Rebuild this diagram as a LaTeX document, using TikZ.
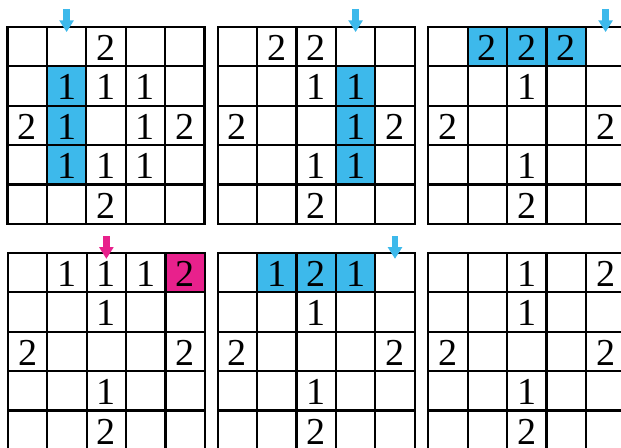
\documentclass[tikz,border=0pt]{standalone}
\usepackage{fontspec}
\setmainfont{Liberation Serif}
\usetikzlibrary{arrows.meta}
\definecolor{hintblue}{RGB}{61,185,235}
\definecolor{hintpink}{RGB}{232,33,140}

\begin{document}
\begin{tikzpicture}[
  x=1cm, y=-1cm,
  board/.style={line width=1.6pt},
  num/.style={font=\fontsize{27.5}{27.5}\selectfont, inner sep=0pt},
  hl/.style={fill=hintblue},
  hint/.style={line width=5pt, hintblue, -{Triangle[width=10pt,length=8.5pt]}},
]
\useasboundingbox (0,0) rectangle (15.761,11.345);
\clip (0,0) rectangle (15.761,11.345);

% top left
\begin{scope}[shift={(0.19,0.685)}]
  \fill[hl] (1,1) rectangle (2,4);
  \draw[board] (0,0) rectangle (5,5);
  \foreach \i in {1,...,4} {
    \draw[board] (\i,0) -- (\i,5);
    \draw[board] (0,\i) -- (5,\i);
  }
  \foreach \c/\r/\v in {3/1/2, 2/2/1, 3/2/1, 4/2/1, 1/3/2, 2/3/1, 4/3/1, 5/3/2,
                        2/4/1, 3/4/1, 4/4/1, 3/5/2}
    \node[num] (p1-\c-\r) at (\c-0.5,\r-0.47) {\v};
  \coordinate (p1-from) at (1.5,-0.46);
  \coordinate (p1-to) at (1.5,0.13);
  \draw[hint] (p1-from) -- (p1-to);
\end{scope}

% top middle
\begin{scope}[shift={(5.525,0.685)}]
  \fill[hl] (3,1) rectangle (4,4);
  \draw[board] (0,0) rectangle (5,5);
  \foreach \i in {1,...,4} {
    \draw[board] (\i,0) -- (\i,5);
    \draw[board] (0,\i) -- (5,\i);
  }
  \foreach \c/\r/\v in {2/1/2, 3/1/2, 3/2/1, 4/2/1, 1/3/2, 4/3/1, 5/3/2,
                        3/4/1, 4/4/1, 3/5/2}
    \node[num] (p2-\c-\r) at (\c-0.5,\r-0.47) {\v};
  \coordinate (p2-from) at (3.5,-0.46);
  \coordinate (p2-to) at (3.5,0.13);
  \draw[hint] (p2-from) -- (p2-to);
\end{scope}

% top right
\begin{scope}[shift={(10.87,0.685)}]
  \fill[hl] (1,0) rectangle (4,1);
  \draw[board] (0,0) rectangle (5,5);
  \foreach \i in {1,...,4} {
    \draw[board] (\i,0) -- (\i,5);
    \draw[board] (0,\i) -- (5,\i);
  }
  \foreach \c/\r/\v in {2/1/2, 3/1/2, 4/1/2, 3/2/1, 1/3/2, 5/3/2, 3/4/1, 3/5/2}
    \node[num] (p3-\c-\r) at (\c-0.5,\r-0.47) {\v};
  \coordinate (p3-from) at (4.5,-0.46);
  \coordinate (p3-to) at (4.5,0.13);
  \draw[hint] (p3-from) -- (p3-to);
\end{scope}

% bottom left
\begin{scope}[shift={(0.2,6.42)}]
  \fill[hintpink] (4,0) rectangle (5,1);
  \draw[board] (0,0) rectangle (5,5);
  \foreach \i in {1,...,4} {
    \draw[board] (\i,0) -- (\i,5);
    \draw[board] (0,\i) -- (5,\i);
  }
  \foreach \c/\r/\v in {2/1/1, 3/1/1, 4/1/1, 5/1/2, 3/2/1, 1/3/2, 5/3/2, 3/4/1, 3/5/2}
    \node[num] (p4-\c-\r) at (\c-0.5,\r-0.47) {\v};
  \coordinate (p4-from) at (2.5,-0.43);
  \coordinate (p4-to) at (2.5,0.15);
  \draw[hint, hintpink] (p4-from) -- (p4-to);
\end{scope}

% bottom middle
\begin{scope}[shift={(5.525,6.42)}]
  \fill[hl] (1,0) rectangle (4,1);
  \draw[board] (0,0) rectangle (5,5);
  \foreach \i in {1,...,4} {
    \draw[board] (\i,0) -- (\i,5);
    \draw[board] (0,\i) -- (5,\i);
  }
  \foreach \c/\r/\v in {2/1/1, 3/1/2, 4/1/1, 3/2/1, 1/3/2, 5/3/2, 3/4/1, 3/5/2}
    \node[num] (p5-\c-\r) at (\c-0.5,\r-0.47) {\v};
  \coordinate (p5-from) at (4.5,-0.43);
  \coordinate (p5-to) at (4.5,0.15);
  \draw[hint] (p5-from) -- (p5-to);
\end{scope}

% bottom right
\begin{scope}[shift={(10.87,6.42)}]
  \draw[board] (0,0) rectangle (5,5);
  \foreach \i in {1,...,4} {
    \draw[board] (\i,0) -- (\i,5);
    \draw[board] (0,\i) -- (5,\i);
  }
  \foreach \c/\r/\v in {3/1/1, 5/1/2, 3/2/1, 1/3/2, 5/3/2, 3/4/1, 3/5/2}
    \node[num] (p6-\c-\r) at (\c-0.5,\r-0.47) {\v};
\end{scope}
\end{tikzpicture}
\end{document}
